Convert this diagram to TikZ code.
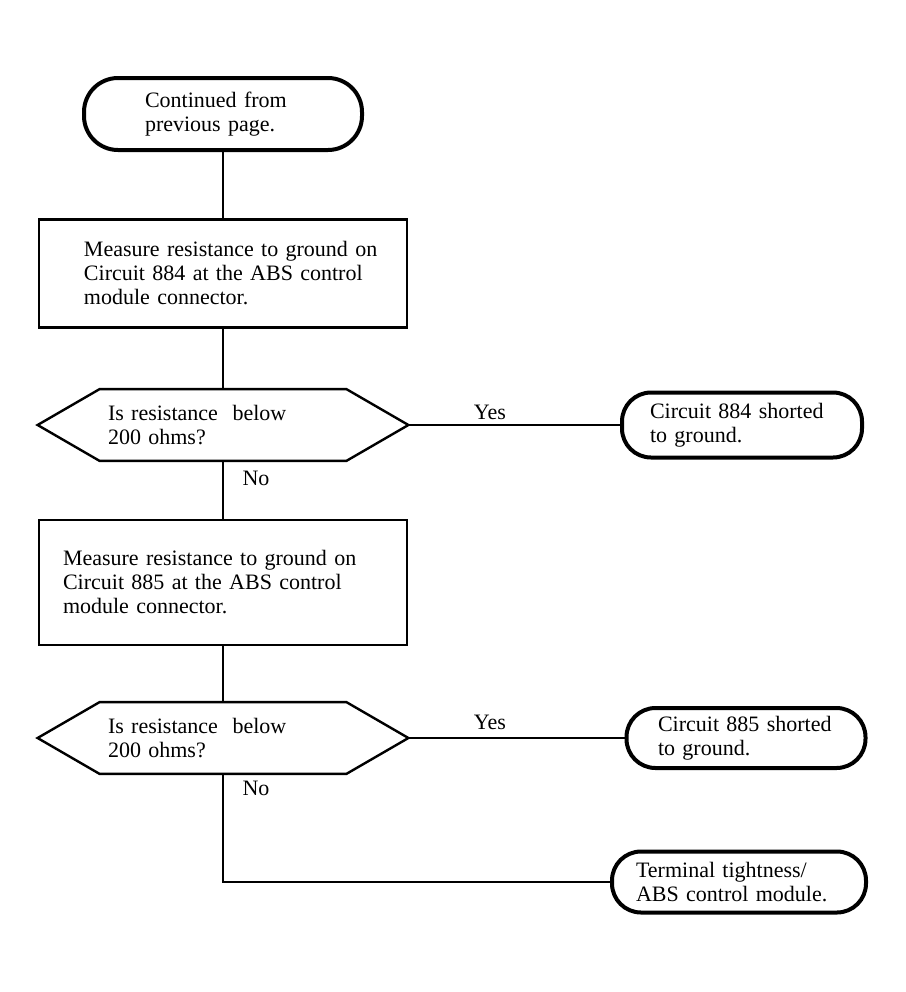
\documentclass[tikz,border=0pt]{standalone}
\usepackage{fontspec}
\setmainfont{Liberation Serif}
\usetikzlibrary{positioning, calc}

% outline of a decision node: a flat hexagon round the node
\newcommand{\decisionframe}[1]{%
  \draw[frame] (#1.west) -- ([xshift=31pt]#1.north west) -- ([xshift=-31pt]#1.north east)
    -- (#1.east) -- ([xshift=-31pt]#1.south east) -- ([xshift=31pt]#1.south west) -- cycle;}

\begin{document}
\begin{tikzpicture}[
  x=0.5pt, y=-0.5pt,
  every node/.style={font=\fontsize{11}{12}\selectfont},
  term/.style={draw, line width=2pt, rounded corners=14.5pt, align=left, inner sep=0pt},
  stepbox/.style={draw, line width=1.2pt, minimum width=184pt, align=left, inner sep=0pt},
  decision/.style={minimum width=185pt, minimum height=35.5pt, inner sep=0pt,
                   align=left, text width=115pt},
  frame/.style={line width=1.2pt, line join=miter},
  link/.style={line width=1pt},
  lbl/.style={inner sep=0pt}
]
\useasboundingbox (0,0) rectangle (906,992);

% Main column
\node[term, rounded corners=17pt, minimum width=139pt, minimum height=36pt, text width=78pt]
  (start) at (223,114) {Continued from\\previous page.};
\node[stepbox, minimum height=54pt, text width=164pt,
      execute at begin node={\leftskip=12.5pt}] (m884) at (223,273.5)
  {Measure resistance to ground on\\Circuit 884 at the ABS control\\module connector.};
\node[decision] (q884) at (223,425) {Is resistance\ \ below\\200 ohms?};
\node[stepbox, minimum height=62.5pt, text width=160pt] (m885) at (223,582.5)
  {Measure resistance to ground on\\Circuit 885 at the ABS control\\module connector.};
\node[decision] (q885) at (223,738) {Is resistance\ \ below\\200 ohms?};
\decisionframe{q884}
\decisionframe{q885}

% End states on the right
\node[term, minimum width=120pt, minimum height=32.5pt, text width=92pt] (s884) at (742,425)
  {Circuit 884 shorted\\to ground.};
\node[term, minimum width=119.5pt, minimum height=30pt, text width=88pt] (s885) at (746,738)
  {Circuit 885 shorted\\to ground.};
\node[term, minimum width=127pt, minimum height=30.5pt, text width=103pt] (ecm) at (739,882)
  {Terminal tightness/\\ABS control module.};

% Connectors
\draw[link] (start) -- (m884);
\draw[link] (m884) -- (q884);
\draw[link] (q884) -- (m885);
\draw[link] (m885) -- (q885);
\draw[link] (q884.east) -- (s884.west);
\draw[link] (q885.east) -- (s885.west);
\draw[link] (q885.south) |- (ecm.west);

% Branch labels
\node[lbl] (yes884) at (490,412) {Yes};
\node[lbl] (yes885) at (490,722) {Yes};
\node[lbl] (no884) at (256,478) {No};
\node[lbl] (no885) at (256,788) {No};
\end{tikzpicture}
\end{document}
